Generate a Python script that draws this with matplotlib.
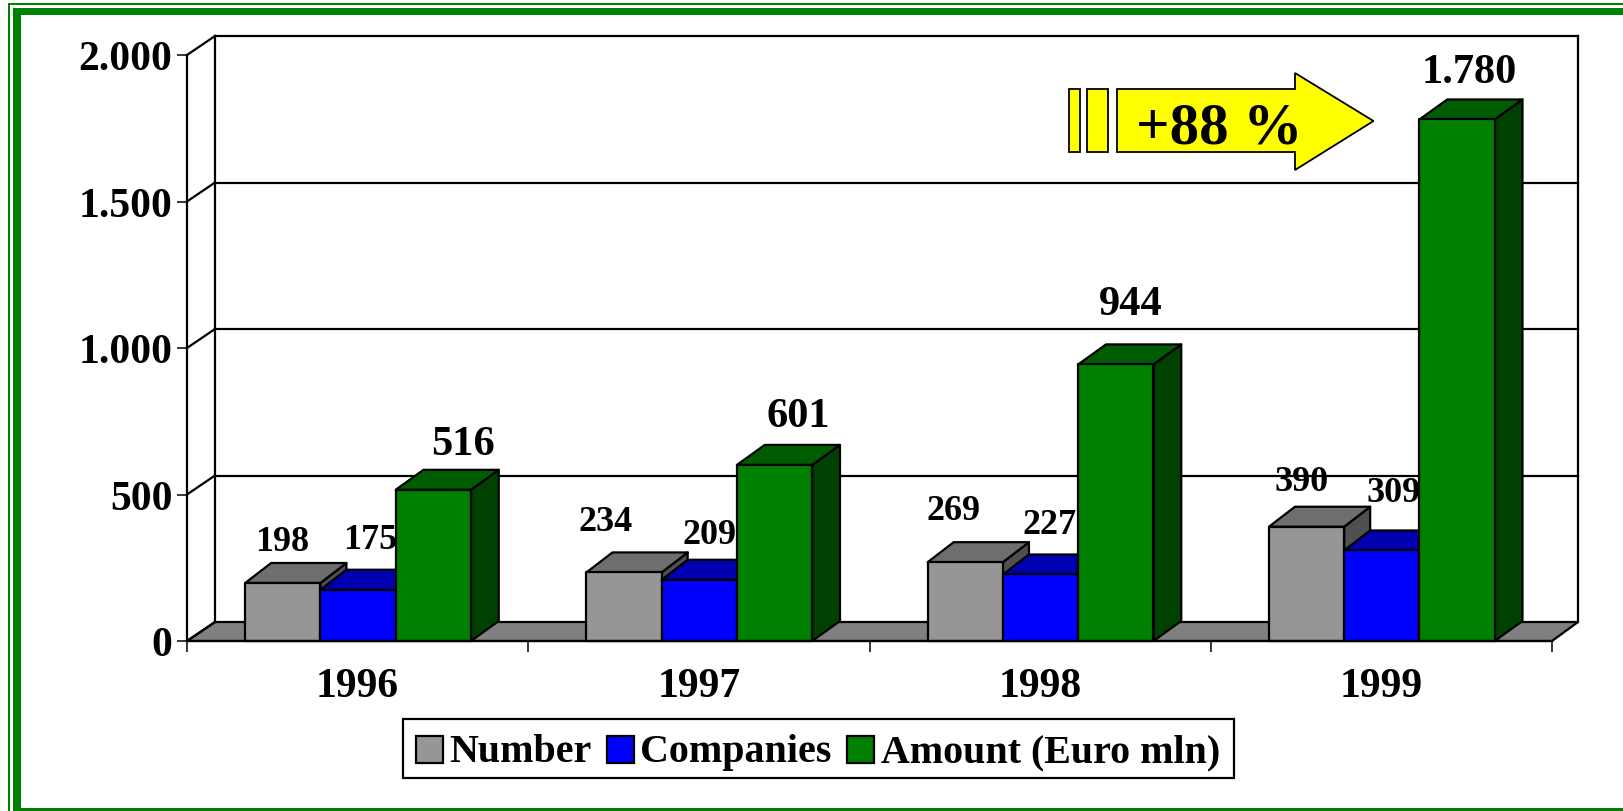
import matplotlib
matplotlib.use("Agg")
import matplotlib.pyplot as plt
from matplotlib.patches import Patch, Polygon, Rectangle

years = ["1996", "1997", "1998", "1999"]
number = [198, 234, 269, 390]
companies = [175, 209, 227, 309]
amount = [516, 601, 944, 1780]
y_ticks = [0, 500, 1000, 1500, 2000]

series_names = ["Number", "Companies", "Amount (Euro mln)"]
front_colors = ["#969696", "#0000ff", "#008000"]
top_colors = ["#6e6e6e", "#0000b0", "#005c00"]
side_colors = ["#505050", "#00007a", "#004000"]

# label shift from the top centre of each bar, in pixels
number_shift = [(-1, 41), (-18, 51), (-12, 52), (-5, 45)]
companies_shift = [(12, 50), (10, 45), (9.5, 49.5), (12, 57.5)]
amount_shift = [(30, 46), (24, 49), (15, 60), (12, 47)]

W, H = 1623, 812
plt.rcParams["font.family"] = ["Liberation Serif", "DejaVu Serif"]
plt.rcParams["font.weight"] = "bold"

fig = plt.figure(figsize=(W / 100, H / 100), dpi=100)
ax = fig.add_axes([187 / W, 1 - 642 / H, (1552 - 187) / W, (642 - 56) / H])
ax.set_xlim(0, 4)
ax.set_ylim(0, 2000)
ax.patch.set_alpha(0)


def frame_rect(x0, y0, x1, y1):
    fig.add_artist(Rectangle((x0 / W, 1 - y1 / H), (x1 - x0) / W, (y1 - y0) / H,
                             transform=fig.transFigure, fc="#008000", ec="none"))


# green frame, open on the right
frame_rect(8, 4, W, 6)
frame_rect(8, 4, 10, H)
frame_rect(13, 9, W, 16)
frame_rect(13, 9, 21, H)
frame_rect(13, 809, W, H)

# depth of the 3d box, in data units
px_x = (1552 - 187) / 4
px_y = (642 - 56) / 2000
wall_left = 28 / px_x
wall_right = 26 / px_x
wall_dy = 19 / px_y
bar_dx = 26 / px_x
bar_dy = 20 / px_y
bar_w = 0.2205
bar_start = 0.1705

lw = 1.6


def poly(pts, fc, z):
    ax.add_patch(Polygon(pts, closed=True, fc=fc, ec="black", lw=lw, zorder=z,
                         clip_on=False, joinstyle="round"))


def line(xs, ys, z=1.5):
    ax.plot(xs, ys, color="black", lw=lw, zorder=z, clip_on=False,
            solid_capstyle="projecting")


# floor and walls
poly([(0, 0), (4, 0), (4 + wall_right, wall_dy), (wall_left, wall_dy)], "#808080", 1)
for v in y_ticks:
    if v > 0:
        line([wall_left, 4 + wall_right], [v + wall_dy, v + wall_dy])
    line([0, wall_left], [v, v + wall_dy])
line([wall_left, wall_left], [wall_dy, 2000 + wall_dy])
line([4 + wall_right, 4 + wall_right], [wall_dy, 2000 + wall_dy])

# bars, left to right so each one covers the side of the one before
series = [number, companies, amount]
z = 2
for i in range(len(years)):
    for s, values in enumerate(series):
        x0 = i + bar_start + s * bar_w
        x1 = x0 + bar_w
        v = values[i]
        dx = bar_dx * (1.07 if s == 2 else 1)
        poly([(x1, 0), (x1 + dx, bar_dy), (x1 + dx, v + bar_dy), (x1, v)], side_colors[s], z)
        poly([(x0, v), (x1, v), (x1 + dx, v + bar_dy), (x0 + dx, v + bar_dy)], top_colors[s], z)
        poly([(x0, 0), (x1, 0), (x1, v), (x0, v)], front_colors[s], z)
        z += 1

# value labels
shifts = [number_shift, companies_shift, amount_shift]
sizes = [26, 26, 30.5]
for s, values in enumerate(series):
    for i, v in enumerate(values):
        txt = f"{v:,}".replace(",", ".")
        xc = i + bar_start + (s + 0.5) * bar_w
        ax.annotate(txt, (xc, v), xytext=(shifts[s][i][0] * 0.72, shifts[s][i][1] * 0.72),
                    textcoords="offset points", ha="center", va="center",
                    fontsize=sizes[s], fontweight="bold", zorder=50, annotation_clip=False)

# axes
for name in ["top", "right"]:
    ax.spines[name].set_visible(False)
for name in ["left", "bottom"]:
    ax.spines[name].set_linewidth(lw)
    ax.spines[name].set_zorder(40)
ax.set_yticks(y_ticks)
ax.set_yticklabels([f"{v:,}".replace(",", ".") for v in y_ticks], fontsize=30, fontweight="bold")
ax.tick_params(axis="y", length=7.5, width=1.1, pad=3)
ax.set_xticks(range(5))
ax.set_xticklabels([])
ax.tick_params(axis="x", which="major", length=8, width=1.1)
ax.set_xticks([i + 0.5 for i in range(4)], minor=True)
ax.set_xticklabels(years, minor=True, fontsize=30, fontweight="bold")
ax.tick_params(axis="x", which="minor", length=0, pad=18.5)

# +88 % arrow, placed in pixels of the picture
def px(x, y):
    return (x / W, 1 - y / H)


arrow = [(1117, 90), (1295, 90), (1295, 74), (1373.5, 122), (1295, 171), (1295, 153), (1117, 153)]
fig.add_artist(Polygon([px(*p) for p in arrow], closed=True, transform=fig.transFigure,
                       fc="#ffff00", ec="black", lw=1.3, zorder=60))
for x0, x1 in [(1069, 1080), (1087, 1108)]:
    fig.add_artist(Polygon([px(x0, 90), px(x1, 90), px(x1, 153), px(x0, 153)], closed=True,
                           transform=fig.transFigure, fc="#ffff00", ec="black", lw=1.3, zorder=60))
fig.text(1219.5 / W, 1 - 130 / H, "+88 %", fontsize=42.5, fontweight="bold", ha="center",
         va="center", zorder=61)

# legend, with its box drawn by hand so the height matches
fig.add_artist(Rectangle((402.5 / W, 1 - 779 / H), (1234 - 402.5) / W, (779 - 720) / H,
                         transform=fig.transFigure, fc="white", ec="black", lw=lw, zorder=4))
handles = [Patch(fc=front_colors[s], ec="black", lw=lw, label=series_names[s]) for s in range(3)]
leg = fig.legend(handles=handles, ncol=3, loc="center", bbox_to_anchor=(818 / W, 1 - 753 / H),
                 fontsize=28.8, frameon=False,
                 handlelength=0.67, handleheight=0.67, handletextpad=0.16, columnspacing=0.39,
                 borderpad=0, borderaxespad=0)
for h in leg.legend_handles:
    h.set_y(h.get_y() - 1.5)

fig.savefig("out.png", dpi=100)
